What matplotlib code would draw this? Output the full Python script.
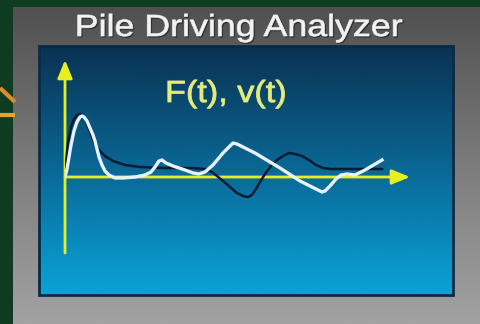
import numpy as np
import matplotlib
matplotlib.use("Agg")
import matplotlib.pyplot as plt
from matplotlib import patheffects
from matplotlib.colors import LinearSegmentedColormap, to_rgba
from matplotlib.transforms import Affine2D

# force and velocity traces (t in samples, amplitude in arbitrary units)
t_force = [0, 1, 3, 6, 9, 12, 15, 18, 21, 24, 27, 30, 34, 40, 48, 60, 75, 100,
           125, 140, 147, 152, 158, 165, 172, 178, 183, 187, 191, 195, 200, 206,
           212, 218, 224, 230, 237, 244, 251, 258, 266, 317]
force = [0, 15, 35, 50, 58, 62, 63, 61, 56, 48, 40, 33, 27, 21, 16, 12, 10, 9,
         9, 8, 5, 1, -4, -10, -16, -19, -20, -18, -12, -5, 3, 11,
         17, 21, 24, 23, 21, 17, 12, 9, 8, 8]

t_vel = [0, 2, 4, 6, 9, 12, 15, 17, 19, 22, 25, 28, 30, 32, 34, 37, 40, 44, 50,
         58, 70, 80, 86, 90, 94, 97, 101, 108, 120, 128, 134, 140, 148, 158, 168,
         172, 190, 215, 235, 257, 260, 265, 271, 276, 282, 290, 300, 317]
vel = [0, 8, 20, 32, 46, 55, 60, 61, 60, 56, 49, 42, 36, 28, 20, 12, 6, 2, -1,
       -1, 0, 2, 5, 10, 16, 17, 14, 11, 7, 4, 3, 5, 12, 24, 34,
       33, 24, 9, -4, -15, -14, -9, -2, 2, 3, 2, 7, 17]

title = "Pile Driving Analyzer"
label = "F(t), v(t)"

W, H = 481, 324
fig = plt.figure(figsize=(W / 100, H / 100), dpi=100)
fig.patch.set_facecolor("#0f3b20")

bg = fig.add_axes([0, 0, 1, 1])
bg.set_xlim(0, W)
bg.set_ylim(H, 0)
bg.axis("off")

def vgrad(ax, x0, x1, y0, y1, colors, z):
    cmap = LinearSegmentedColormap.from_list("g", colors)
    g = np.linspace(0, 1, 256).reshape(-1, 1)
    ax.imshow(g, cmap=cmap, extent=(x0, x1, y1, y0), aspect="auto",
              interpolation="bilinear", zorder=z)

# grey frame and blue screen
vgrad(bg, 13, W, 7, H, ["#505050", "#7c7c7c", "#a2a2a2"], 1)
vgrad(bg, 39, 453, 46, 295, ["#0a3252", "#0a6896", "#0aa3d8"], 2)
bg.add_patch(plt.Rectangle((39, 46), 414, 249, fill=False, ec="#0b2a44",
                           lw=2, zorder=3))
bg.set_xlim(0, W)
bg.set_ylim(H, 0)

# orange connector stubs on the left edge
bg.plot([0, 15], [88, 102], color="#e08a30", lw=3, solid_capstyle="butt", zorder=4)
bg.plot([0, 15], [115, 115], color="#e8a030", lw=3, solid_capstyle="butt", zorder=4)


class Stretch(patheffects.AbstractPathEffect):
    """Widen glyphs horizontally about the text anchor, with an optional outline."""

    def __init__(self, sx, text, offset=(0, 0), color=None, stroke=0.0):
        super().__init__(offset)
        self.sx = sx
        self.text = text
        self.color = to_rgba(color) if color is not None else None
        self.stroke = stroke

    def draw_path(self, renderer, gc, tpath, affine, rgbFace=None):
        cx = self.text.get_transform().transform(self.text.get_position())[0]
        ox = renderer.points_to_pixels(self._offset[0])
        oy = renderer.points_to_pixels(self._offset[1])
        aff = affine + Affine2D().translate(-cx, 0).scale(self.sx, 1).translate(cx + ox, oy)
        face = self.color if self.color is not None else rgbFace
        gc0 = renderer.new_gc()
        gc0.copy_properties(gc)
        gc0.set_linewidth(self.stroke)
        gc0.set_foreground(face)
        gc0.set_joinstyle("round")
        renderer.draw_path(gc0, tpath, aff, face)
        gc0.restore()


def stretched_text(ax, x, y, s, size, color, sx, stroke, shadow=None):
    t = ax.text(x, y, s, fontsize=size, color=color, ha="center", va="baseline",
                family="Liberation Sans", zorder=6)
    effects = []
    if shadow:
        effects.append(Stretch(sx, t, offset=(0.8, -0.8), color=shadow, stroke=stroke))
    effects.append(Stretch(sx, t, stroke=stroke))
    t.set_path_effects(effects)
    return t

stretched_text(bg, 238, 36, title, 22, "#f2f2f2", 1.17, 0.5, shadow="#2e2e2e")
stretched_text(bg, 226, 102, label, 22, "#e4ec7c", 1.12, 0.6)

# trace axes: origin at the yellow axes crossing
ax = fig.add_axes([65 / W, (H - 253) / H, 345 / W, 193 / H])
ax.set_xlim(0, 345)
ax.set_ylim(-76, 117)
ax.axis("off")
ax.patch.set_alpha(0)

yellow = "#e6f020"
arrow = dict(arrowstyle="-|>,head_length=1.1,head_width=0.45", mutation_scale=10,
             lw=2, color=yellow, shrinkA=0, shrinkB=0)
ax.annotate("", xy=(345, 0), xytext=(0, 0), arrowprops=arrow)
ax.annotate("", xy=(0, 117), xytext=(0, -76), arrowprops=arrow)

ax.plot(t_force, force, color="#0a1c34", lw=1.8, solid_joinstyle="round", zorder=3)
ax.plot(t_vel, vel, color="#e6f2ff", lw=2.4, solid_joinstyle="round", zorder=4)

fig.savefig("out.png", dpi=100, facecolor=fig.get_facecolor())
